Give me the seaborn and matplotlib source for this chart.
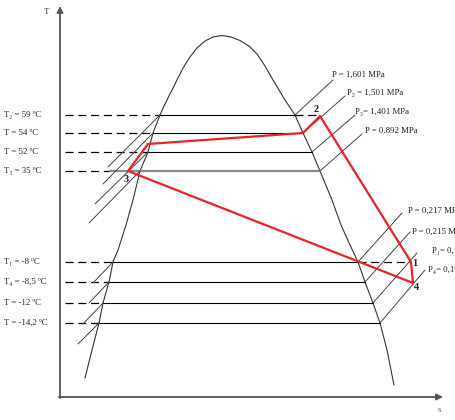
import numpy as np
import pandas as pd
import matplotlib
matplotlib.use("Agg")
import matplotlib.pyplot as plt
import seaborn as sns

sns.set_style("white")
plt.rcParams['lines.scale_dashes'] = False
SERIF = ['Liberation Serif', 'DejaVu Serif']

# ---------------- data (chart units: s to the right, T inverted downward) -------------
# saturation dome (left branch from bottom to top, then right branch top to bottom)
dome_left_s = [85, 92, 99, 103, 109, 113, 118, 126, 133, 140, 148, 153, 160, 164, 168, 172, 177,
               183, 190, 197, 205, 213, 222]
dome_left_T = [378, 350, 323, 303, 282, 262, 250, 225, 200, 171, 152, 133, 115, 106, 98, 90, 80,
               68, 57, 48, 41, 37, 35.5]
dome_right_s = [222, 231, 240, 249, 257, 265, 273, 279, 285, 295, 303, 312, 320, 332, 341, 350,
                358, 365, 373, 380, 387, 394]
dome_right_T = [35.5, 37, 40.5, 46, 54, 66, 80, 90, 100, 115, 133, 152, 171, 200, 225, 245,
                262, 282, 303, 323, 350, 385]

temp_labels = ["T\u2082 = 59 \u00baC", "T = 54 \u00baC", "T = 52 \u00baC", "T\u2083 = 35 \u00baC",
               "T\u2081 = -8 \u00baC", "T\u2084 = -8,5 \u00baC", "T = -12 \u00baC", "T = -14,2 \u00baC"]
temp_levels = [115, 133, 152, 171, 262, 282, 303, 323]
# where the dashed part to the left ends (None = at the dome)
dash_left_end = [None, None, None, 110, None, None, None, None]
# dashed continuation to the right of the dome
dash_right_end = [318, None, None, None, 411, None, None, None]

# isobar branch ends (superheated / subcooled parts)
iso_upper_left_end_s = [108, 103, 95, 89]
iso_upper_left_end_T = [167, 184, 204, 223]
iso_lower_left_end_s = [93, 89, 83, 78]
iso_lower_left_end_T = [283, 303, 324, 344]
iso_upper_right_end_s = [333, 345, 355, 362]
iso_upper_right_end_T = [80, 96, 115, 134]
iso_lower_right_end_s = [402, 410, 417, 425]
iso_lower_right_end_T = [213, 232, 253, 270]

p_upper_labels = ["P = 1,601 MPa", "P\u2082 = 1,501 MPa", "P\u2083= 1,401 MPa", "P = 0.892 MPa"]
p_upper_s = [332, 347, 355, 365]
p_upper_T = [75, 93, 112, 131]
p_lower_labels = ["P = 0,217 MPa", "P = 0,215 MPa", "P\u2081= 0,199 MPa", "P\u2084= 0,195 MPa"]
p_lower_s = [408, 412, 432, 428]
p_lower_T = [211, 232, 251, 270]

# refrigeration cycle (red)
cycle_s = [128, 148, 303, 320, 411, 413, 128]
cycle_T = [171, 144, 133, 116, 262, 283, 171]
point_names = ["2", "3", "1", "4"]
point_s = [316, 126, 415, 417]
point_T = [109, 179, 264, 287]

# ---------------- figure ----------------
fig = plt.figure(figsize=(4.56, 4.2), dpi=100)
ax = fig.add_axes([0, 0, 1, 1])
ax.set_xlim(0, 456)
ax.set_ylim(420, 0)
ax.axis('off')

dome = pd.DataFrame({"s": dome_left_s + dome_right_s[1:], "T": dome_left_T + dome_right_T[1:]})
sns.lineplot(data=dome, x="s", y="T", sort=False, color="#333333", lw=0.8, ax=ax, estimator=None)

def left_x(T):
    return np.interp(-T, -np.array(dome_left_T), dome_left_s)
def right_x(T):
    return np.interp(T, dome_right_T, dome_right_s)

dash = (0, (5.8, 3.4))
for i, T in enumerate(temp_levels):
    xl = left_x(T)
    xr = right_x(T)
    dl = xl if dash_left_end[i] is None else dash_left_end[i]
    ax.plot([65, dl], [T, T], color="black", lw=0.9, linestyle=dash)
    if T == 171:
        ax.plot([dl, xr], [T, T], color="#888888", lw=1.6)
    else:
        ax.plot([xl, xr], [T, T], color="black", lw=0.8)
    if dash_right_end[i] is not None:
        ax.plot([xr, dash_right_end[i]], [T, T], color="black", lw=0.9, linestyle=dash)
    ax.text(4, T, temp_labels[i], fontsize=6.3, family=SERIF, va='center', ha='left', color="#222222")

upper = temp_levels[:4]
lower = temp_levels[4:]
for i, T in enumerate(upper):
    ax.plot([left_x(T), iso_upper_left_end_s[i]], [T, iso_upper_left_end_T[i]], color="#444444", lw=0.7)
    ax.plot([right_x(T), iso_upper_right_end_s[i]], [T, iso_upper_right_end_T[i]], color="#444444", lw=0.7)
    ax.text(p_upper_s[i], p_upper_T[i], p_upper_labels[i], fontsize=6.3, family=SERIF, va='center', ha='left', color="#222222")
for i, T in enumerate(lower):
    ax.plot([left_x(T), iso_lower_left_end_s[i]], [T, iso_lower_left_end_T[i]], color="#444444", lw=0.7)
    ax.plot([right_x(T), iso_lower_right_end_s[i]], [T, iso_lower_right_end_T[i]], color="#444444", lw=0.7)
    ax.text(p_lower_s[i], p_lower_T[i], p_lower_labels[i], fontsize=6.3, family=SERIF, va='center', ha='left', color="#222222")

cycle = pd.DataFrame({"s": cycle_s, "T": cycle_T})
sns.lineplot(data=cycle, x="s", y="T", sort=False, color="#e8232a", lw=1.6, ax=ax, estimator=None)

for n, s, T in zip(point_names, point_s, point_T):
    ax.text(s, T, n, fontsize=7.5, family=SERIF, va='center', ha='center', color="#1c1c5a", fontweight='bold')

# axes with arrows
ax.annotate('', xy=(60, 6), xytext=(60, 398),
            arrowprops=dict(arrowstyle='-|>', color="#555555", lw=1.3, mutation_scale=9, shrinkA=0, shrinkB=0))
ax.annotate('', xy=(443, 397), xytext=(59, 397),
            arrowprops=dict(arrowstyle='-|>', color="#555555", lw=1.3, mutation_scale=9, shrinkA=0, shrinkB=0))
ax.text(47, 12, "T", fontsize=6.5, family=SERIF, va='center', ha='center', color="#3a2a6a")
ax.text(439, 410, "s", fontsize=6.5, family=SERIF, va='center', ha='center', color="#6a5a3a")

fig.savefig("out.png", dpi=100)
